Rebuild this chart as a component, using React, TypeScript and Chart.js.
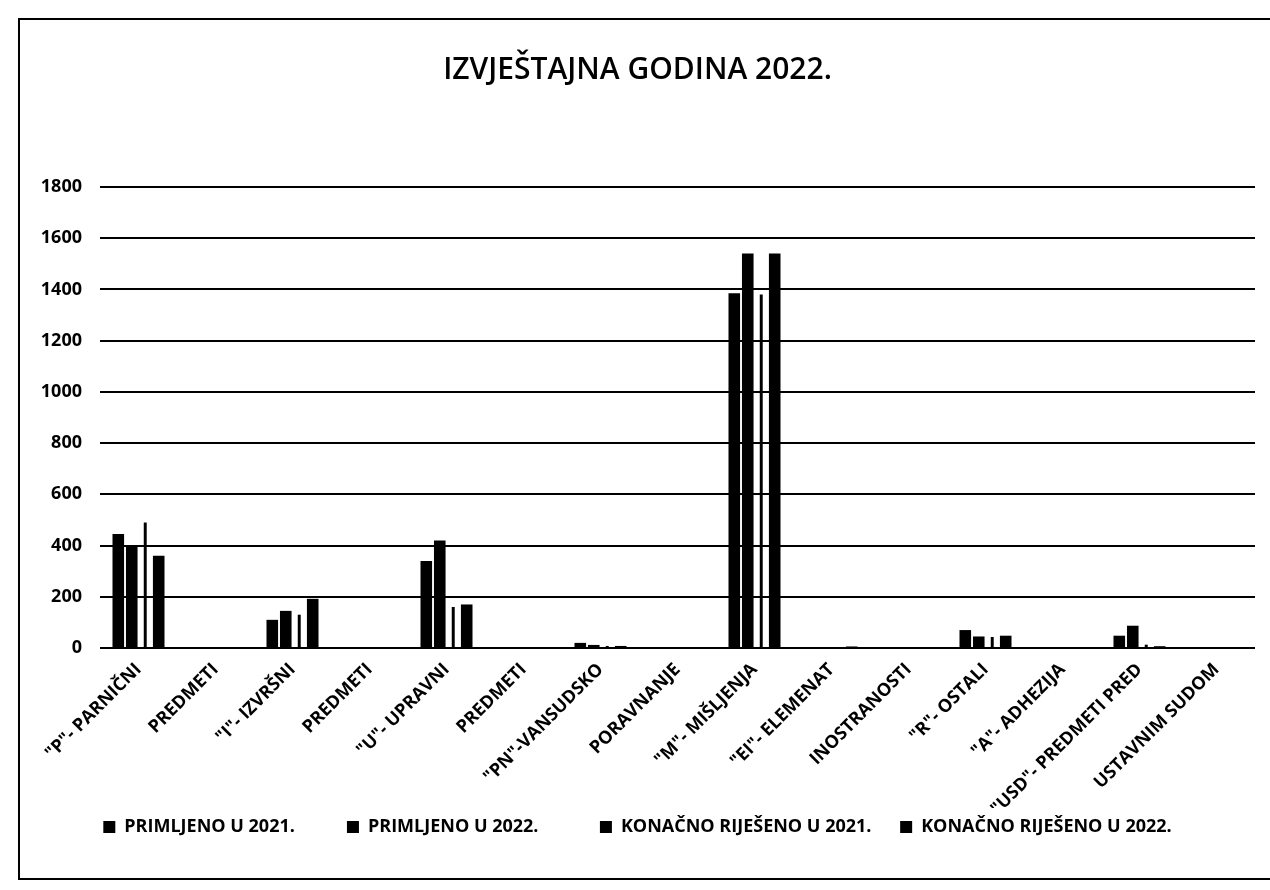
import React, { useEffect, useRef } from "react";
import { Chart, registerables } from "chart.js";

Chart.register(...registerables);

const chartTitle = "IZVJEŠTAJNA GODINA 2022.";

const categories = [
  '"P"- PARNIČNI',
  "PREDMETI",
  '"I"- IZVRŠNI',
  "PREDMETI",
  '"U"- UPRAVNI',
  "PREDMETI",
  '"PN"-VANSUDSKO',
  "PORAVNANJE",
  '"M"- MIŠLJENJA',
  '"EI"- ELEMENAT',
  "INOSTRANOSTI",
  '"R"- OSTALI',
  '"A"- ADHEZIJA',
  '"USD"- PREDMETI PRED',
  "USTAVNIM SUDOM",
];

const seriesNames = [
  "PRIMLJENO U 2021.",
  "PRIMLJENO U 2022.",
  "KONAČNO RIJEŠENO U 2021.",
  "KONAČNO RIJEŠENO U 2022.",
];

const primljeno2021 = [445, 0, 110, 0, 340, 0, 20, 0, 1385, 1, 0, 70, 0, 48, 0];
const primljeno2022 = [400, 0, 145, 0, 420, 0, 12, 0, 1540, 1, 0, 45, 0, 87, 0];
const rijeseno2021 = [490, 0, 130, 0, 160, 0, 8, 0, 1380, 2, 0, 43, 0, 13, 0];
const rijeseno2022 = [360, 0, 192, 0, 170, 0, 8, 0, 1540, 6, 0, 48, 0, 7, 0];

const yMin = 0;
const yMax = 1800;
const yStep = 200;

const FONT = "'Open Sans', 'Noto Sans', sans-serif";
const legendGaps = [9, 11, 4, 0];

export default function App() {
  const canvasRef = useRef<HTMLCanvasElement | null>(null);

  useEffect(() => {
    if (!canvasRef.current) return;
    const values = [primljeno2021, primljeno2022, rijeseno2021, rijeseno2022];
    const chart = new Chart(canvasRef.current, {
      type: "bar",
      data: {
        labels: categories,
        datasets: values.map((v, i) => ({
          label: seriesNames[i],
          data: v,
          backgroundColor: "#000",
          borderColor: "#000",
          borderWidth: 0,
          barPercentage: i === 2 ? 0.22 : 0.86,
          categoryPercentage: 0.7,
        })),
      },
      options: {
        responsive: false,
        animation: false,
        layout: { padding: { left: 20, right: 15, top: 0, bottom: 44 } },
        plugins: {
          title: {
            display: true,
            text: chartTitle,
            color: "#000",
            font: { family: FONT, size: 30, weight: "600" },
            padding: { top: 52, bottom: 99 },
          },
          legend: {
            position: "bottom",
            labels: {
              color: "#000",
              boxWidth: 12,
              boxHeight: 12,
              padding: 10,
              font: { family: FONT, size: 18, weight: "bold" },
              generateLabels: (c: any) => {
                const base = Chart.defaults.plugins.legend.labels.generateLabels(c);
                return base.map((item: any, i: number) => ({
                  ...item,
                  text: item.text + "\u00a0".repeat(legendGaps[i] || 0),
                  lineWidth: 0,
                }));
              },
            },
          },
          tooltip: { enabled: false },
        },
        scales: {
          x: {
            grid: { display: false },
            border: { display: false },
            ticks: {
              autoSkip: false,
              maxRotation: 45,
              minRotation: 45,
              color: "#000",
              font: { family: FONT, size: 18, weight: "bold" },
            },
            afterFit: (s: any) => {
              s.height = 160;
            },
          },
          y: {
            min: yMin,
            max: yMax,
            ticks: {
              stepSize: yStep,
              color: "#000",
              padding: 18,
              font: { family: FONT, size: 18, weight: "bold" },
              callback: (v: any) => String(v),
            },
            grid: { color: "#000", lineWidth: 2, drawTicks: false },
            border: { display: false },
            afterFit: (s: any) => {
              s.width = 80;
            },
          },
        },
      },
    });
    return () => chart.destroy();
  }, []);

  return (
    <div style={{ position: "absolute", left: 0, top: 0, width: 1270, height: 890, background: "#fff", overflow: "hidden" }}>
      <canvas ref={canvasRef} width={1270} height={890} style={{ position: "absolute", left: 0, top: 0 }} />
      <div
        style={{
          position: "absolute",
          left: 18,
          top: 18,
          width: 1252,
          height: 862,
          borderLeft: "2px solid #000",
          borderTop: "2px solid #000",
          borderBottom: "2px solid #000",
          boxSizing: "border-box",
          pointerEvents: "none",
        }}
      />
    </div>
  );
}
